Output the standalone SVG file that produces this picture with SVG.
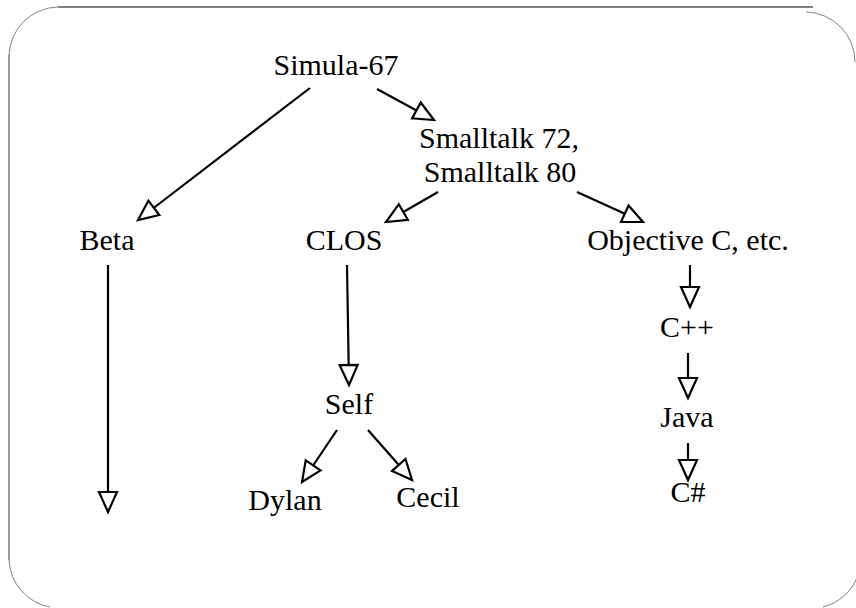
<svg xmlns="http://www.w3.org/2000/svg" width="856" height="608" viewBox="0 0 856 608">
<style>
.lbl{font-size:30px;fill:#000;text-anchor:middle}
.edge{stroke:#000;stroke-width:2.2;fill:none;marker-end:url(#tri)}
.frame{stroke:#808080;fill:none}
</style>
<defs>
<marker id="tri" markerUnits="userSpaceOnUse" markerWidth="24" markerHeight="22" refX="21" refY="9" orient="auto" overflow="visible">
<path d="M1,0 L21,9 L1,18 Z" fill="#fff" stroke="#000" stroke-width="2.2" stroke-linejoin="miter"/>
</marker>
</defs>
<rect width="856" height="608" fill="#fff"/>
<g id="frame">
<line class="frame" x1="58" y1="7" x2="813" y2="7" stroke-width="2.2"/>
<line class="frame" x1="9" y1="55" x2="9" y2="560" stroke-width="1.6"/>
<path class="frame" d="M9,55 A50,50 0 0 1 58,7" stroke-width="1"/>
<path class="frame" d="M806,12 A50,50 0 0 1 855,62" stroke-width="1"/>
<path class="frame" d="M9,560 A50,50 0 0 0 50,607" stroke-width="1"/>
<path class="frame" d="M823,607 A50,50 0 0 0 858,575" stroke-width="1"/>
</g>
<g id="connectors">
<line class="edge" x1="310" y1="88" x2="138" y2="220"/>
<line class="edge" x1="377" y1="89" x2="434" y2="120"/>
<line class="edge" x1="438" y1="192" x2="386" y2="222"/>
<line class="edge" x1="577" y1="192" x2="643" y2="222"/>
<line class="edge" x1="690" y1="265" x2="690" y2="307"/>
<line class="edge" x1="688" y1="353" x2="688" y2="398"/>
<line class="edge" x1="688" y1="443" x2="688" y2="480"/>
<line class="edge" x1="108" y1="265" x2="108" y2="512"/>
<line class="edge" x1="347" y1="265" x2="349" y2="385"/>
<line class="edge" x1="337" y1="430" x2="302" y2="482"/>
<line class="edge" x1="368" y1="430" x2="412" y2="480"/>
</g>
<g font-family="'Liberation Serif', 'Times New Roman', Times, 'DejaVu Serif', serif">
<g id="simula"><text class="lbl" x="336" y="75">Simula-67</text></g>
<g id="smalltalk"><text class="lbl" x="499" y="148">Smalltalk 72,</text><text class="lbl" x="500" y="182">Smalltalk 80</text></g>
<g id="beta"><text class="lbl" x="107" y="250">Beta</text></g>
<g id="clos"><text class="lbl" x="344" y="250">CLOS</text></g>
<g id="objc"><text class="lbl" x="688" y="250">Objective C, etc.</text></g>
<g id="cpp"><text class="lbl" x="687" y="337">C++</text></g>
<g id="java"><text class="lbl" x="687" y="427">Java</text></g>
<g id="csharp"><text class="lbl" x="688" y="502">C#</text></g>
<g id="self"><text class="lbl" x="349" y="414">Self</text></g>
<g id="dylan"><text class="lbl" x="285" y="510">Dylan</text></g>
<g id="cecil"><text class="lbl" x="428" y="507">Cecil</text></g>
</g>
</svg>
